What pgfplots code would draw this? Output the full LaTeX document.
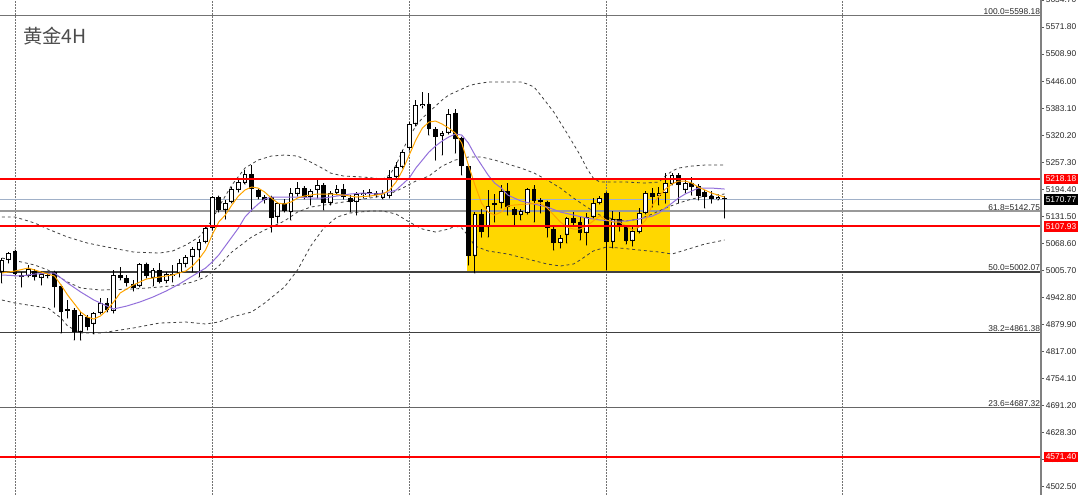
\documentclass[border=0pt]{standalone}
\usepackage{pgfplots}
\pgfplotsset{compat=1.18}
\usepackage{pgfplotstable}
\usepackage{fontspec}
\setmainfont{Liberation Sans}
\newfontfamily\cjk{Noto Sans CJK SC}
\definecolor{gold}{RGB}{255,215,0}
\definecolor{maorange}{RGB}{255,165,0}
\definecolor{mapurple}{RGB}{147,112,219}
\definecolor{bidline}{RGB}{160,176,200}

\pgfplotstableread{
n o h l c
0 5001.9 5034.5 4976.3 5029.8
1 5029.8 5048.5 5022.9 5046.1
2 5050.8 5053.1 4992.6 4997.3
3 4995.0 5001.9 4967.0 4990.3
4 4992.6 5018.2 4990.3 5008.9
5 5004.3 5008.9 4983.3 4990.3
6 4988.0 5004.3 4971.7 4997.3
7 4995.0 4999.6 4988.0 4992.6
8 5001.9 5004.3 4920.5 4967.0
9 4969.4 4971.7 4860.0 4908.9
10 4915.9 4936.8 4894.9 4911.2
11 4913.5 4918.2 4843.8 4862.4
12 4862.4 4908.9 4843.8 4901.9
13 4897.3 4901.9 4867.0 4874.0
14 4881.0 4908.9 4857.7 4906.6
15 4906.6 4941.5 4904.2 4929.8
16 4929.8 4941.5 4908.9 4913.5
17 4911.2 5006.6 4906.6 4995.0
18 4995.0 5013.6 4983.3 4988.0
19 4988.0 4995.0 4969.4 4976.3
20 4974.0 4983.3 4957.7 4964.7
21 4969.4 5022.9 4967.0 5020.5
22 5020.5 5022.9 4988.0 4992.6
23 4988.0 5011.2 4969.4 5006.6
24 5006.6 5022.9 4976.3 4978.7
25 4981.0 5001.9 4976.3 4997.3
26 4992.6 5018.2 4978.7 4997.3
27 4999.6 5032.2 4990.3 5022.9
28 5020.5 5041.5 5013.6 5036.8
29 5036.8 5060.1 5001.9 5055.4
30 5053.1 5078.7 4990.3 5071.7
31 5071.7 5106.6 5069.4 5104.3
32 5104.3 5178.7 5099.6 5176.4
33 5176.4 5178.7 5141.5 5146.1
34 5146.1 5169.4 5125.2 5162.4
35 5164.8 5199.6 5162.4 5195.0
36 5192.7 5220.6 5188.0 5211.3
37 5208.9 5239.2 5206.6 5229.9
38 5229.9 5250.8 5143.8 5195.0
39 5192.7 5195.0 5171.7 5176.4
40 5176.4 5181.0 5162.4 5169.4
41 5176.4 5178.7 5095.0 5127.5
42 5129.9 5164.8 5115.9 5162.4
43 5162.4 5171.7 5141.5 5143.8
44 5141.5 5197.3 5122.9 5185.7
45 5183.4 5211.3 5178.7 5197.3
46 5197.3 5202.0 5171.7 5176.4
47 5176.4 5195.0 5157.8 5190.3
48 5192.7 5218.3 5174.1 5204.3
49 5204.3 5208.9 5146.1 5162.4
50 5162.4 5190.3 5157.8 5185.7
51 5185.7 5204.3 5181.0 5195.0
52 5195.0 5206.6 5171.7 5176.4
53 5174.1 5181.0 5141.5 5164.8
54 5164.8 5188.0 5134.5 5183.4
55 5181.0 5192.7 5174.1 5185.7
56 5183.4 5194.0 5176.4 5187.0
57 5185.7 5190.3 5176.4 5181.0
58 5174.1 5192.7 5171.7 5185.7
59 5178.7 5239.2 5174.1 5222.9
60 5222.9 5257.8 5220.6 5246.2
61 5246.2 5285.7 5243.8 5281.1
62 5290.4 5350.8 5285.7 5346.2
63 5346.2 5402.0 5341.5 5390.4
64 5388.0 5420.6 5383.4 5392.7
65 5392.7 5418.3 5320.6 5334.6
66 5334.6 5339.2 5262.4 5315.9
67 5318.3 5329.9 5274.1 5325.2
68 5325.2 5381.1 5322.9 5369.4
69 5371.8 5381.1 5278.7 5311.3
70 5313.6 5315.9 5227.6 5248.5
71 5248.5 5250.8 5018.2 5039.1
72 5039.1 5141.5 4999.6 5136.8
73 5136.8 5148.5 5083.3 5095.0
74 5106.6 5192.7 5083.3 5155.4
75 5157.8 5183.4 5118.2 5162.4
76 5162.4 5204.3 5150.8 5190.3
77 5190.3 5208.9 5134.5 5153.1
78 5148.5 5153.1 5111.3 5134.5
79 5134.5 5148.5 5122.9 5143.8
80 5139.2 5197.3 5136.8 5195.0
81 5195.0 5204.3 5118.2 5167.1
82 5169.4 5174.1 5139.2 5164.8
83 5164.8 5167.1 5083.3 5104.3
84 5102.0 5106.6 5053.1 5069.4
85 5069.4 5088.0 5057.8 5081.0
86 5088.0 5129.9 5069.4 5127.5
87 5127.5 5141.5 5111.3 5115.9
88 5118.2 5129.9 5076.4 5092.6
89 5092.6 5139.2 5064.7 5129.9
90 5129.9 5174.1 5127.5 5162.4
91 5162.4 5178.7 5160.1 5174.1
92 5185.7 5188.0 5006.6 5071.7
93 5071.7 5143.8 5057.8 5125.2
94 5125.2 5141.5 5097.3 5106.6
95 5106.6 5111.3 5067.1 5074.0
96 5074.0 5106.6 5062.4 5097.3
97 5095.0 5150.8 5092.6 5139.2
98 5139.2 5190.3 5136.8 5185.7
99 5185.7 5197.3 5153.1 5176.4
100 5178.7 5199.6 5157.8 5185.7
101 5185.7 5232.2 5162.4 5208.9
102 5206.6 5232.2 5204.3 5227.6
103 5227.6 5232.2 5162.4 5204.3
104 5192.7 5220.6 5185.7 5208.9
105 5208.9 5222.9 5181.0 5199.6
106 5202.0 5206.6 5169.4 5178.7
107 5188.0 5192.7 5150.8 5176.4
108 5178.7 5190.3 5162.4 5171.7
109 5171.7 5178.7 5169.4 5176.4
110 5174.1 5178.7 5127.5 5170.8
}\ohlc

\pgfplotstableread{
n p
0 4999.6
2 5004.3
4 5011.2
6 5001.9
8 4992.6
9 4971.7
10 4948.4
12 4908.9
13 4897.3
14 4892.6
15 4899.6
16 4913.5
17 4932.2
18 4953.1
20 4971.7
22 4985.7
24 4990.3
26 4995.0
28 5004.3
29 5015.9
30 5032.2
31 5053.1
32 5088.0
33 5118.2
34 5134.5
35 5157.8
36 5178.7
37 5192.7
38 5199.6
39 5197.3
40 5188.0
41 5174.1
42 5162.4
43 5160.1
44 5164.8
45 5174.1
46 5178.7
47 5181.0
48 5183.4
50 5183.4
52 5181.0
54 5176.4
56 5178.7
58 5183.4
59 5192.7
60 5211.3
61 5239.2
62 5274.1
63 5309.0
64 5336.9
65 5350.8
66 5353.2
67 5346.2
68 5336.9
69 5325.2
70 5302.0
71 5250.8
72 5204.3
73 5162.4
74 5141.5
75 5134.5
76 5141.5
77 5155.4
78 5157.8
80 5160.1
82 5162.4
83 5150.8
84 5134.5
85 5118.2
86 5106.6
87 5102.0
88 5102.0
89 5108.9
90 5120.6
91 5132.2
92 5122.9
93 5118.2
94 5118.2
95 5108.9
96 5099.6
97 5106.6
98 5122.9
99 5157.8
100 5178.7
101 5195.0
102 5206.6
103 5213.6
104 5213.6
105 5208.9
106 5199.6
107 5192.7
108 5185.7
109 5181.0
110 5176.4
}\maFast

\pgfplotstableread{
n p
0 4995.0
3 4992.6
5 4997.3
8 4999.6
10 4976.3
12 4955.4
14 4936.8
16 4922.8
17 4915.9
19 4922.8
21 4932.2
23 4943.8
25 4957.7
27 4974.0
29 4992.6
31 5011.2
32 5025.2
33 5041.5
34 5062.4
35 5083.3
36 5104.3
37 5129.9
38 5146.1
39 5160.1
40 5171.7
41 5176.4
43 5176.4
45 5176.4
47 5174.1
49 5174.1
51 5178.7
53 5183.4
55 5185.7
57 5183.4
59 5188.0
60 5192.7
61 5206.6
62 5220.6
63 5243.8
64 5262.4
65 5281.1
66 5295.0
67 5306.6
68 5315.9
69 5322.9
70 5320.6
71 5302.0
72 5274.1
73 5250.8
74 5227.6
75 5208.9
76 5197.3
77 5181.0
79 5167.1
81 5160.1
83 5153.1
85 5141.5
87 5134.5
89 5127.5
91 5122.9
93 5120.6
95 5120.6
97 5125.2
99 5132.2
100 5139.2
101 5150.8
102 5162.4
103 5174.1
104 5183.4
105 5190.3
106 5197.3
108 5197.3
110 5195.0
}\maSlow

\pgfplotstableread{
n p
0 5129.9
2 5129.9
5 5115.9
7 5101.9
10 5083.3
13 5069.4
16 5060.1
20 5048.5
24 5046.1
26 5050.8
28 5064.7
30 5083.3
31 5101.9
32 5122.9
33 5153.1
34 5178.7
35 5204.3
37 5243.8
39 5262.4
41 5271.7
43 5274.1
45 5271.7
47 5257.8
49 5241.5
50 5232.2
52 5225.2
55 5222.9
58 5218.3
59 5227.6
60 5250.8
61 5285.7
62 5315.9
63 5341.5
64 5360.1
65 5374.1
66 5388.0
67 5402.0
68 5413.6
69 5420.6
70 5427.6
71 5434.6
72 5439.2
74 5443.9
77 5443.9
79 5443.9
80 5439.2
81 5432.2
82 5413.6
84 5374.1
86 5325.2
88 5274.1
89 5243.8
90 5220.6
91 5211.3
93 5211.3
95 5211.3
98 5208.9
100 5211.3
101 5225.2
102 5236.9
103 5243.8
105 5248.5
107 5250.8
110 5250.8
}\bbUp

\pgfplotstableread{
n p
0 5034.5
3 5025.2
5 5018.2
7 5006.6
10 4978.7
12 4964.7
15 4960.1
20 4962.4
24 4967.0
27 4971.7
29 4978.7
31 4990.3
33 5015.9
35 5048.5
38 5083.3
40 5099.6
43 5120.6
45 5141.5
47 5153.1
50 5160.1
52 5164.8
55 5171.7
57 5176.4
59 5183.4
61 5197.3
63 5213.6
65 5225.2
67 5248.5
69 5262.4
71 5269.4
73 5269.4
75 5262.4
77 5253.1
79 5243.8
81 5232.2
83 5215.9
85 5197.3
87 5174.1
89 5153.1
91 5134.5
93 5125.2
95 5120.6
97 5125.2
99 5136.8
101 5150.8
103 5162.4
105 5171.7
107 5178.7
110 5183.4
}\bbMid

\pgfplotstableread{
n p
0 4936.8
2 4929.8
5 4922.8
7 4918.2
9 4894.9
10 4876.3
12 4860.0
15 4860.0
20 4871.7
24 4883.3
28 4885.6
31 4881.0
33 4885.6
35 4897.3
38 4908.9
40 4929.8
43 4967.0
45 5006.6
47 5062.4
49 5104.3
51 5129.9
53 5139.2
56 5143.8
58 5143.8
60 5136.8
62 5118.2
64 5102.0
66 5095.0
68 5102.0
69 5108.9
70 5104.3
71 5085.7
72 5062.4
74 5050.8
77 5043.8
80 5032.2
83 5020.5
85 5015.9
87 5020.5
88 5029.8
90 5050.8
92 5060.1
94 5057.8
97 5053.1
100 5048.5
102 5043.8
104 5053.1
107 5067.1
110 5076.4
}\bbLow

\begin{document}
\begin{tikzpicture}
\path[use as bounding box] (0,0) rectangle (810pt,371.25pt);
\begin{axis}[
  at={(0,0)}, anchor=south west,
  scale only axis, width=780.75pt, height=371.25pt,
  xmin=-0.29, xmax=158.16, ymin=4483.2, ymax=5634.8,
  axis line style={draw=none},
  xtick=\empty,
  ytick={4502.5,4565.4,4628.3,4691.2,4754.1,4817.0,4879.9,4942.8,5005.7,5068.6,5131.5,5194.4,5257.3,5320.2,5383.1,5446.0,5508.9,5571.8,5634.7},
  yticklabels={4502.50,4565.40,4628.30,4691.20,4754.10,4817.00,4879.90,4942.80,5005.70,5068.60,5131.50,5194.40,5257.30,5320.20,5383.10,5446.00,5508.90,5571.80,5634.70},
  ytick pos=right, yticklabel pos=right,
  tick align=outside, major tick length=2.25pt,
  ytick style={black!65, line width=0.6pt},
  yticklabel style={font=\fontsize{6.3}{7}\selectfont, anchor=west, inner sep=0pt, xshift=1.2pt, text=black!85},
  clip mode=individual,
  candle/.style={only marks, mark=*, mark size=0.1pt, mark options={draw=none, fill=none}},
]
% yellow zone
\addplot[fill=gold, draw=none] coordinates {(70.8,5002.07) (101.7,5002.07) (101.7,5218.18) (70.8,5218.18)} -- cycle;
% vertical grid
\pgfplotsinvokeforeach{2,32,62,92,128}{
  \addplot[black!55, line width=0.75pt, dash pattern=on 1.5pt off 0.75pt] coordinates {(#1,4483.2) (#1,5634.8)};
}
% fibonacci levels
\addplot[black!55, line width=0.9pt] coordinates {(-0.29,5598.18) (158.16,5598.18)};
\addplot[black!40, line width=1.5pt] coordinates {(-0.29,5142.75) (158.16,5142.75)};
\addplot[black!75, line width=0.9pt] coordinates {(-0.29,5002.07) (158.16,5002.07)};
\addplot[black!75, line width=0.9pt] coordinates {(-0.29,4861.38) (158.16,4861.38)};
\addplot[black!60, line width=0.9pt] coordinates {(-0.29,4687.32) (158.16,4687.32)};
% bid line
\addplot[bidline, line width=0.75pt] coordinates {(-0.29,5170.77) (158.16,5170.77)};
% bollinger
\addplot[black!75, line width=0.6pt, dash pattern=on 2.2pt off 2.2pt] table[x=n,y=p] {\bbUp};
\addplot[black!75, line width=0.6pt, dash pattern=on 2.2pt off 2.2pt] table[x=n,y=p] {\bbMid};
\addplot[black!75, line width=0.6pt, dash pattern=on 2.2pt off 2.2pt] table[x=n,y=p] {\bbLow};
% candles: wicks
\addplot[candle, error bars/.cd, y dir=plus, y explicit, error mark=none,
  error bar style={black, line width=0.75pt}]
  table[x=n, y=l, y error plus expr={\thisrow{h}-\thisrow{l}}] {\ohlc};
% bodies (outline / bear fill)
\addplot[candle, error bars/.cd, y dir=plus, y explicit, error mark=none,
  error bar style={black, line width=3.6pt}]
  table[x=n, y expr={min(\thisrow{o},\thisrow{c})}, y error plus expr={max(abs(\thisrow{c}-\thisrow{o}),2.3)}] {\ohlc};
% bull bodies white inside
\addplot[candle, error bars/.cd, y dir=plus, y explicit, error mark=none,
  error bar style={white, line width=2.1pt}]
  table[x=n, y expr={\thisrow{o}+2.3}, y error plus expr={(\thisrow{c}>\thisrow{o})*max(\thisrow{c}-\thisrow{o}-4.6,0)}] {\ohlc};
% moving averages
\addplot[mapurple, line width=0.75pt] table[x=n,y=p] {\maSlow};
\addplot[maorange, line width=0.75pt] table[x=n,y=p] {\maFast};
% red levels
\addplot[red, line width=1.5pt] coordinates {(-0.29,5218.18) (158.16,5218.18)};
\addplot[red, line width=1.5pt] coordinates {(-0.29,5107.93) (158.16,5107.93)};
\addplot[red, line width=1.5pt] coordinates {(-0.29,4571.40) (158.16,4571.40)};
% right axis line
\draw[black!50, line width=1.1pt] (rel axis cs:1,0) -- (rel axis cs:1,1);
% fib labels
\tikzset{fiblab/.style={anchor=south east, inner sep=0.6pt, font=\fontsize{6.3}{7}\selectfont, text=black!85}}
\node[fiblab] at (axis cs:158.16,5598.18) {100.0=5598.18};
\node[fiblab] at (axis cs:158.16,5142.75) {61.8=5142.75};
\node[fiblab] at (axis cs:158.16,5002.07) {50.0=5002.07};
\node[fiblab] at (axis cs:158.16,4861.38) {38.2=4861.38};
\node[fiblab] at (axis cs:158.16,4687.32) {23.6=4687.32};
% price boxes
\tikzset{pbox/.style={anchor=west, xshift=2.2pt, inner xsep=1.2pt, inner ysep=1.3pt, text height=4.6pt, text depth=0.6pt, text=white, font=\fontsize{6.3}{7}\selectfont}}
\node[pbox, fill=red] at (axis cs:158.16,5218.18) {5218.18};
\node[pbox, fill=black] at (axis cs:158.16,5170.77) {5170.77};
\node[pbox, fill=red] at (axis cs:158.16,5107.93) {5107.93};
\node[pbox, fill=red] at (axis cs:158.16,4571.40) {4571.40};
% title
\node[anchor=west, inner sep=0pt, text=black!70, font=\cjk\fontsize{14.5}{16}\selectfont] at (axis cs:3.2,5551.0) {黄金4H};
\end{axis}
\end{tikzpicture}
\end{document}
